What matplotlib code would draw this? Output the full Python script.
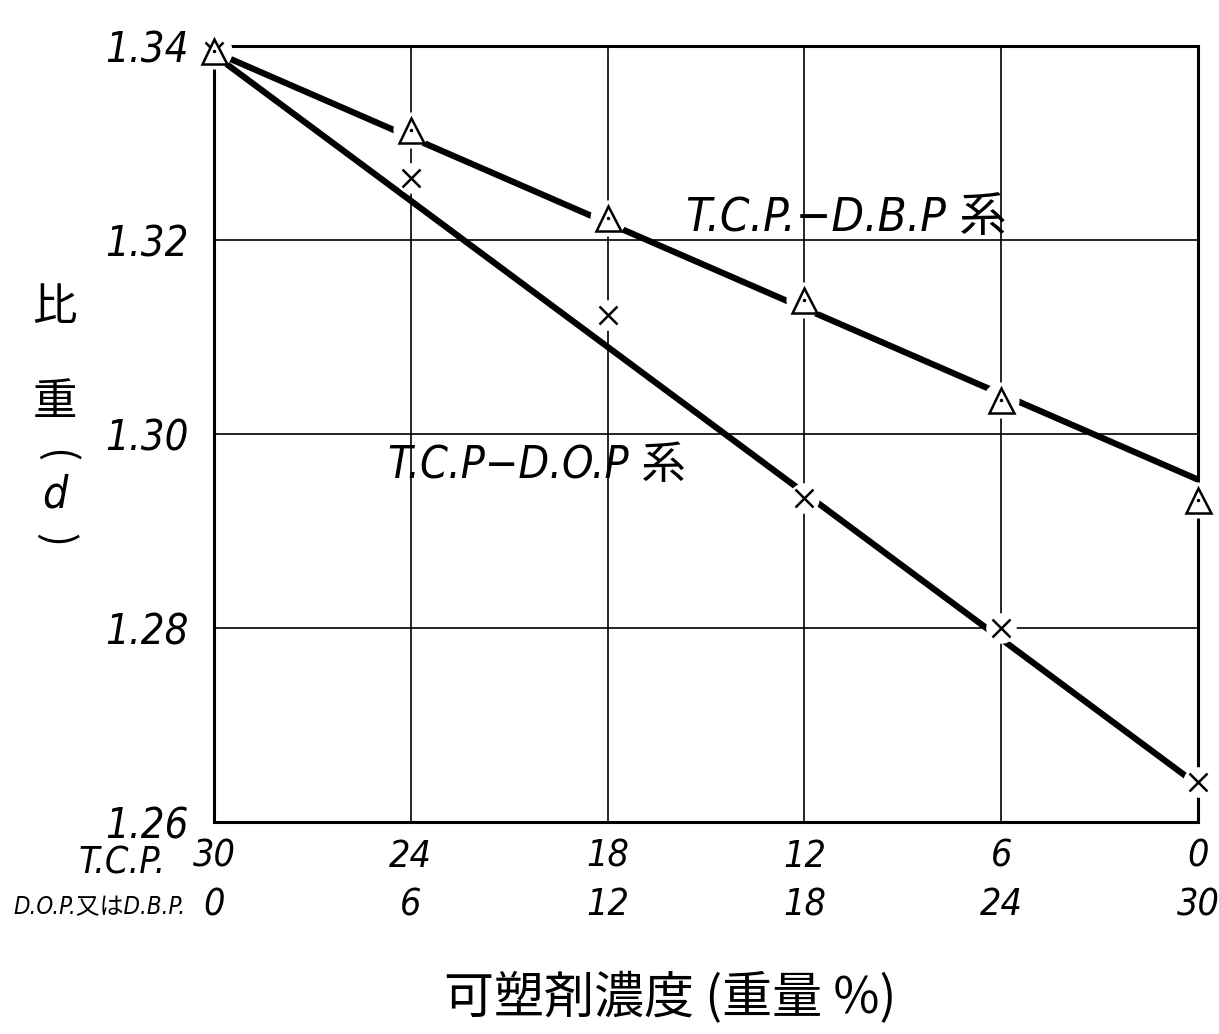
import matplotlib
matplotlib.use('Agg')
import matplotlib.pyplot as plt
from matplotlib import font_manager as fm

# look for a narrow italic face for the hand-lettered numbers
narrow = None
for f in fm.fontManager.ttflist:
    if f.style in ('italic', 'oblique') and (
            str(f.stretch) in ('condensed', 'semi-condensed', 'extra-condensed')
            or 'Narrow' in f.name or 'Condensed' in f.name):
        narrow = f
        break
if narrow is not None:
    NUM = dict(family=[narrow.name, 'Noto Sans CJK JP'], style='italic', stretch=narrow.stretch)
else:
    NUM = dict(family=['DejaVu Sans', 'Noto Sans CJK JP'], style='italic')
CJK = ['Noto Sans CJK JP', 'DejaVu Sans']

# TCP content (x axis, first row) and DOP/DBP content (second row)
tcp = [30, 24, 18, 12, 6, 0]
dop_dbp = [0, 6, 12, 18, 24, 30]

# measured specific gravity
d_dbp = [1.3395, 1.3313, 1.3223, 1.3138, 1.3035, 1.2932]
d_dop = [1.3395, 1.3264, 1.3123, 1.2934, 1.2800, 1.2641]

# straight lines drawn through the points (ends at TCP 30 and TCP 0)
fit_x = [30, 0]
fit_dbp = [1.3394, 1.2953]
fit_dop = [1.3391, 1.2638]

yticks = [1.26, 1.28, 1.30, 1.32, 1.34]

fig = plt.figure(figsize=(12.19, 10.34), dpi=100)
ax = fig.add_axes([0.1756, 0.205, 0.8072, 0.7505])

ax.set_xlim(30, 0)
ax.set_ylim(1.26, 1.34)

# grid
ax.set_xticks(tcp)
ax.set_yticks(yticks)
ax.grid(True, color='black', lw=1.2, zorder=1)
for s in ax.spines.values():
    s.set_linewidth(2.2)
    s.set_zorder(1.5)

# fitted lines
ax.plot(fit_x, fit_dbp, color='black', lw=4.5, solid_capstyle='butt', zorder=2)
ax.plot(fit_x, fit_dop, color='black', lw=4.5, solid_capstyle='butt', zorder=2)

# white halo so the lines break at the markers
ax.plot(tcp, d_dbp, 'o', ms=26, mfc='white', mec='none', zorder=3, clip_on=False)
ax.plot(tcp[1:], d_dop[1:], 'o', ms=22, mfc='white', mec='none', zorder=3, clip_on=False)

# markers
ax.plot(tcp, d_dop, 'x', ms=13, mew=1.8, color='black', zorder=4, clip_on=False)
ax.plot(tcp, d_dbp, '^', ms=18, mfc='white', mec='black', mew=1.8, zorder=5, clip_on=False)
ax.plot(tcp, d_dbp, '.', ms=3, color='black', zorder=6, clip_on=False)

# tick labels
ax.tick_params(length=0)
ax.tick_params(axis='y', pad=18)
ax.tick_params(axis='x', pad=12)
ax.set_yticklabels(['1.26', '1.28', '1.30', '1.32', '1.34'])
ax.set_xticklabels([f'{a}\n{b}' for a, b in zip(tcp, dop_dbp)])
for lab in ax.get_yticklabels():
    lab.set(fontsize=30, **NUM)
for lab in ax.get_xticklabels():
    lab.set(fontsize=27, linespacing=1.45, **NUM)

fig.text(0.136, 0.165, 'T.C.P.', fontsize=27, ha='right', va='center', **NUM)
row2 = fig.text(0.152, 0.123, 'D.O.P.又はD.B.P.', fontsize=21, ha='right', va='center', **NUM)
# shrink the second row title so it fits left of the axis
renderer = fig.canvas.get_renderer()
w = row2.get_window_extent(renderer).width
if w > 172:
    row2.set_fontsize(21 * 172 / w)

# series labels
ax.text(15.6, 1.3222, 'T.C.P.−D.B.P 系', fontsize=34, ha='left', va='center', **NUM)
ax.text(24.7, 1.2968, 'T.C.P−D.O.P 系', fontsize=32, ha='left', va='center', **NUM)

# y label (vertical writing)
fig.text(0.045, 0.703, '比', fontsize=32, ha='center', va='center', family=CJK)
fig.text(0.045, 0.611, '重', fontsize=32, ha='center', va='center', family=CJK)
fig.text(0.045, 0.559, '(', fontsize=30, ha='center', va='center', rotation=-90, family=CJK)
fig.text(0.045, 0.521, 'd', fontsize=32, ha='center', va='center', **NUM)
fig.text(0.045, 0.478, ')', fontsize=30, ha='center', va='center', rotation=-90, family=CJK)

# x label
fig.text(0.55, 0.034, '可塑剤濃度 (重量 %)', fontsize=36, ha='center', va='center', family=CJK)

fig.savefig('out.png', dpi=100)
